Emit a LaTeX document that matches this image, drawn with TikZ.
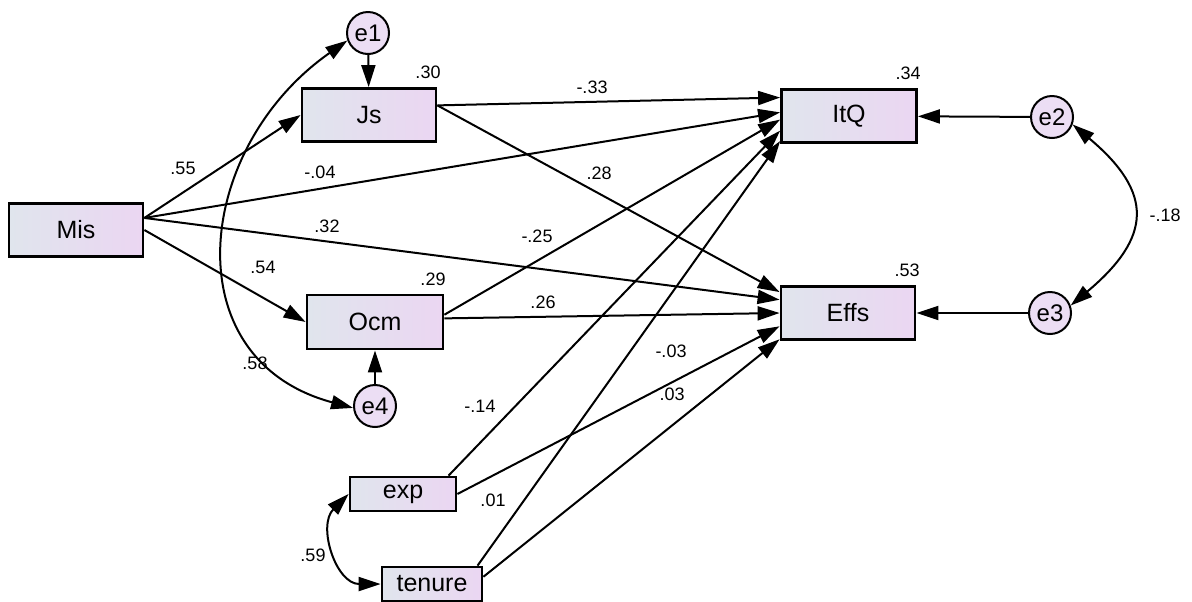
\documentclass[tikz,border=0pt]{standalone}
\usepackage{fontspec}
\setmainfont{Liberation Sans}
\usetikzlibrary{arrows.meta,positioning}

\definecolor{boxL}{RGB}{224,229,237}
\definecolor{boxR}{RGB}{235,214,242}
\definecolor{errfill}{RGB}{236,222,244}

\tikzset{
  obs/.style={draw=black, line width=1.4pt, left color=boxL, right color=boxR,
    inner sep=0pt, font=\fontsize{12.5}{13}\selectfont},
  err/.style={circle, draw=black, line width=1pt, fill=errfill, inner sep=0pt,
    minimum size=21pt, font=\fontsize{12}{13}\selectfont},
  est/.style={inner sep=1pt, font=\fontsize{9}{10}\selectfont},
  path/.style={line width=1pt, -{Triangle[length=11pt,width=7pt]}},
  cov/.style={line width=1pt, {Triangle[length=11pt,width=7pt]}-{Triangle[length=11pt,width=7pt]}}
}

\begin{document}
\begin{tikzpicture}[x=0.5pt,y=0.5pt]
  \useasboundingbox (0,0) rectangle (1192,-601);

  % observed variables
  \node (Mis) [obs, minimum width=67pt, minimum height=26.5pt] at (76,-230) {Mis};
  \node (Js) [obs, minimum width=67pt, minimum height=26.5pt] at (369,-115) {Js};
  \node (Ocm) [obs, minimum width=68pt, minimum height=27pt] at (375,-322) {Ocm};
  \node (ItQ) [obs, minimum width=67.5pt, minimum height=26.5pt] at (849,-116) {ItQ};
  \node (Effs) [obs, minimum width=67pt, minimum height=26.5pt] at (848,-313) {Effs};
  \node (exp) [obs, minimum width=53pt, minimum height=17pt] at (403,-494) {exp};
  \node (tenure) [obs, minimum width=50pt, minimum height=17pt] at (432,-584) {tenure};

  % error terms
  \node (e1) [err] at (368,-33) {e1};
  \node (e2) [err] at (1052,-117) {e2};
  \node (e3) [err] at (1050,-313) {e3};
  \node (e4) [err] at (375,-406) {e4};

  % paths
  \draw[path] (Mis.10) -- (Js.west);
  \draw[path] (Mis.10) -- (ItQ.177);
  \draw[path] (Mis.10) -- (Effs.169);
  \draw[path] (Mis.east) -- (Ocm.west);
  \draw[path] (Js.8) -- (ItQ.165);
  \draw[path] (Js.8) -- (Effs.163);
  \draw[path] (Ocm.6) -- (ItQ.183);
  \draw[path] (Ocm.3) -- (Effs.west);
  \draw[path] (exp.22) -- (ItQ.192);
  \draw[path] (exp.east) -- (Effs.191);
  \draw[path] (tenure.22) -- (ItQ.200);
  \draw[path] (tenure.8) -- (Effs.201);
  \draw[path] (e1) -- (Js);
  \draw[path] (e4) -- (Ocm);
  \draw[path] (e2) -- (ItQ);
  \draw[path] (e3) -- (Effs);

  % covariances
  \draw[cov] (e1.200) to[out=215, in=165, looseness=1.3] (e4.185);
  \draw[cov] (e2.-20) to[out=-40, in=40, looseness=1.5] (e3.20);
  \draw[cov] (exp.west) to[out=225, in=180, looseness=1.2] (tenure.west);

  % estimates
  \node (r30) [est] at (428,-72) {.30};
  \node (r29) [est] at (433,-279) {.29};
  \node (r34) [est] at (908,-73) {.34};
  \node (r53) [est] at (907,-270) {.53};
  \node (w55) [est] at (183,-168) {.55};
  \node (w04) [est] at (320,-172) {-.04};
  \node (w32) [est] at (327,-226) {.32};
  \node (w54) [est] at (263,-267) {.54};
  \node (w33) [est] at (592,-87) {-.33};
  \node (w28) [est] at (599,-173) {.28};
  \node (w25) [est] at (537,-236) {-.25};
  \node (w26) [est] at (543,-302) {.26};
  \node (w03n) [est] at (671,-351) {-.03};
  \node (w03) [est] at (672,-394) {.03};
  \node (w14) [est] at (480,-406) {-.14};
  \node (w01) [est] at (493,-500) {.01};
  \node (c18) [est] at (1165,-215) {-.18};
  \node (c58) [est] at (255,-363) {.58};
  \node (c59) [est] at (313,-555) {.59};
\end{tikzpicture}
\end{document}
